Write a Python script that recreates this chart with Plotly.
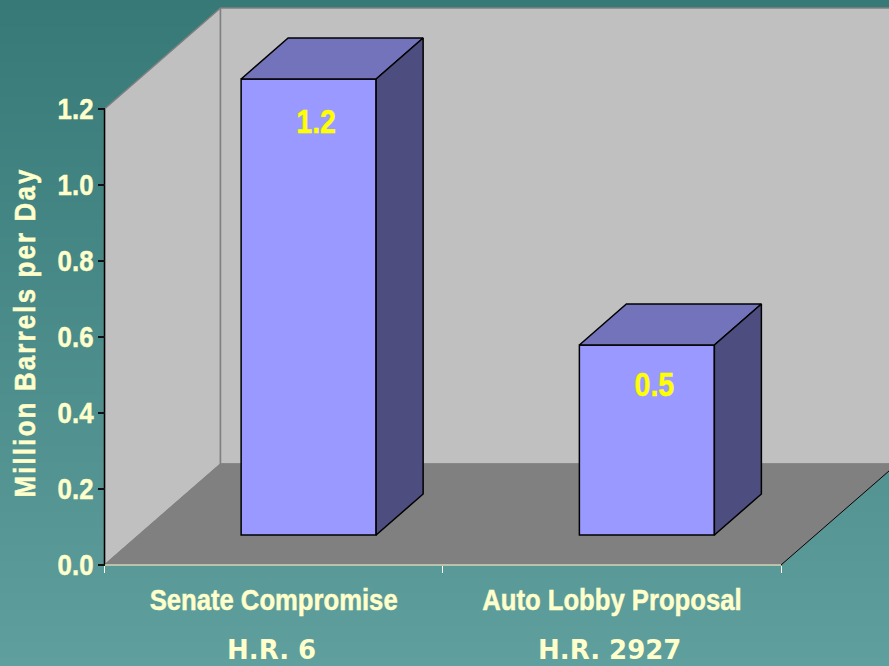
import plotly.graph_objects as go

# Data
categories = ["Senate Compromise", "Auto Lobby Proposal"]
bills = ["H.R. 6", "H.R. 2927"]
values = [1.2, 0.5]
y_ticks = [0.0, 0.2, 0.4, 0.6, 0.8, 1.0, 1.2]
axis_title = "Million Barrels per Day"

# Pixel frame of the chart's front plane -> data scale
W, H = 889, 666
X0_PX, X2_PX = 104.5, 781.0
Y0_PX, Y12_PX = 565.0, 109.0
SX = (X2_PX - X0_PX) / 2.0        # px per category
SY = (Y0_PX - Y12_PX) / 1.2       # px per value unit

x_range = [-X0_PX / SX, (W - X0_PX) / SX]
y_range = [(Y0_PX - H) / SY, Y0_PX / SY]

# Oblique projection
WALL_DX, WALL_DY = 116 / SX, 101 / SY
BAR_DX, BAR_DY = 47 / SX, 41 / SY
BASE = 30 / SY
SHIFT = 0.1035
WIDTH = 135 / SX
x_centers = [i + 0.5 + SHIFT for i in range(len(values))]
label_drop = [45, 42]

TXT = "#ffffcc"
SANS = "Liberation Sans, Arial, sans-serif"
ymax = max(y_ticks)
xmax = float(len(categories))

fig = go.Figure()

# Gradient background
fig.add_trace(go.Heatmap(
    x=[x_range[0] - 1, x_range[1] + 1],
    y=[y_range[1], y_range[0]],
    z=[[0, 0], [1, 1]],
    colorscale=[[0, "#367977"], [1, "#5f9f9e"]],
    zsmooth="best", showscale=False, hoverinfo="skip",
))

def poly(xs, ys, fill, line, lw, axes=("x", "y")):
    fig.add_trace(go.Scatter(
        x=xs, y=ys, mode="lines", fill="toself", fillcolor=fill,
        line=dict(color=line, width=lw), hoverinfo="skip", showlegend=False,
        xaxis=axes[0], yaxis=axes[1],
    ))

# Walls and floor
poly([0, WALL_DX, WALL_DX, 0, 0], [ymax, ymax + WALL_DY, WALL_DY, 0, ymax], "#c0c0c0", "#808080", 1.5)
poly([WALL_DX, xmax + WALL_DX, xmax + WALL_DX, WALL_DX, WALL_DX],
     [ymax + WALL_DY, ymax + WALL_DY, WALL_DY, WALL_DY, ymax + WALL_DY], "#c0c0c0", "#808080", 1.5)
poly([0, xmax, xmax + WALL_DX, WALL_DX, 0], [0, 0, WALL_DY, WALL_DY, 0], "#808080", "#808080", 1)

# Axis lines
fig.add_trace(go.Scatter(x=[0, 0], y=[0, ymax], mode="lines", line=dict(color="#000000", width=1.5),
                         hoverinfo="skip", showlegend=False))
fig.add_trace(go.Scatter(x=[0, xmax], y=[0, 0], mode="lines", line=dict(color=TXT, width=1),
                         hoverinfo="skip", showlegend=False))
fig.add_trace(go.Scatter(x=[xmax, xmax + WALL_DX], y=[0, WALL_DY], mode="lines", line=dict(color="#000000", width=1),
                         hoverinfo="skip", showlegend=False))

# Bars (front faces) on an overlaid copy of the axes so they sit above the walls
fig.add_trace(go.Bar(
    x=x_centers, y=values, base=[BASE] * len(values), width=WIDTH,
    marker=dict(color="#9999ff", line=dict(color="#000000", width=1.5)),
    hoverinfo="skip", showlegend=False, xaxis="x2", yaxis="y2",
))

for xc, v in zip(x_centers, values):
    l, r = xc - WIDTH / 2, xc + WIDTH / 2
    t, b = BASE + v, BASE
    poly([l, r, r + BAR_DX, l + BAR_DX, l], [t, t, t + BAR_DY, t + BAR_DY, t],
         "#7373bb", "#000000", 1.5, ("x2", "y2"))
    poly([r, r + BAR_DX, r + BAR_DX, r, r], [t, t + BAR_DY, b + BAR_DY, b, t],
         "#4d4d7f", "#000000", 1.5, ("x2", "y2"))

# Data labels
fig.add_trace(go.Scatter(
    x=[xc + 7.5 / SX for xc in x_centers],
    y=[BASE + v - d / SY for v, d in zip(values, label_drop)],
    text=[f"{v:.1f}" for v in values],
    mode="text", textposition="middle center",
    textfont=dict(family=SANS, size=34, color="#ffff00", weight="bold"),
    hoverinfo="skip", showlegend=False, xaxis="x2", yaxis="y2",
))

# Second label row
for i, bill in enumerate(bills):
    fig.add_annotation(
        x=i + 0.5 - 2.5 / SX, y=(Y0_PX - 650) / SY, xref="x", yref="y", text=bill, showarrow=False,
        borderpad=0, font=dict(family="DejaVu Sans", size=26, color=TXT, weight="bold"),
    )

fig.update_layout(
    width=W, height=H, margin=dict(l=0, r=0, t=0, b=0), autosize=False,
    paper_bgcolor="#4f9190", plot_bgcolor="rgba(0,0,0,0)", showlegend=False,
    xaxis=dict(
        domain=[0, 1], range=x_range, anchor="free", position=(H - Y0_PX) / H,
        showgrid=False, zeroline=False, showline=False,
        tickmode="array", tickvals=[i + 0.5 for i in range(len(categories))], ticktext=categories,
        ticks="outside", ticklen=8, tickcolor="rgba(0,0,0,0)",
        tickfont=dict(family=SANS, size=30, color=TXT, weight="bold"),
        minor=dict(tickmode="array", tickvals=[0, 1, 2], ticks="outside", ticklen=7,
                   tickcolor="#ffffee", tickwidth=1, showgrid=False),
    ),
    yaxis=dict(
        domain=[0, 1], range=y_range, anchor="free", position=X0_PX / W, side="left",
        showgrid=False, zeroline=False, showline=False,
        tickmode="array", tickvals=y_ticks, ticktext=[f"{t:.1f}" for t in y_ticks],
        ticks="outside", ticklen=7, tickcolor="#111111", tickwidth=1.5,
        tickfont=dict(family=SANS, size=30, color=TXT, weight="bold"),
    ),
    xaxis2=dict(overlaying="x", matches="x", domain=[0, 1], anchor="y2", visible=False),
    yaxis2=dict(overlaying="y", matches="y", domain=[0, 1], anchor="x2", visible=False),
)

fig.add_annotation(
    x=(24 - X0_PX) / SX, y=(Y0_PX - 333) / SY, xref="x", yref="y", text=axis_title, textangle=-90,
    showarrow=False, font=dict(family=SANS, size=30, color=TXT, weight="bold"),
)

# Remove the page margin and give the Arial-like labels the reference's condensed / stretched proportions
post = """
document.documentElement.style.margin = '0';
document.body.style.margin = '0';
document.body.style.overflow = 'hidden';
var gd = document.querySelector('.plotly-graph-div');
function fit(sel, f, dx, dy) {
  gd.querySelectorAll(sel).forEach(function (t) {
    var w = t.getComputedTextLength();
    t.setAttribute('textLength', w * f);
    t.setAttribute('lengthAdjust', 'spacingAndGlyphs');
    t.style.stroke = t.style.fill;
    t.style.strokeWidth = '0.5px';
    if (dx) t.setAttribute('dx', dx);
    if (dy) t.setAttribute('dy', dy);
  });
}
fit('.xtick text', 0.855, 0, 0);
fit('.ytick text', 0.86, 2, -1);
fit('.textpoint text', 0.84, 0, 0);
gd.querySelectorAll('.annotation-text').forEach(function (t) {
  if (t.textContent.indexOf('Million') === 0) {
    t.style.letterSpacing = '2.5px';
    t.style.stroke = t.style.fill;
    t.style.strokeWidth = '0.5px';
    t.setAttribute('textLength', 330);
    t.setAttribute('lengthAdjust', 'spacingAndGlyphs');
  }
});
"""
fig.write_html("out.html", post_script=post, config={"displayModeBar": False})
